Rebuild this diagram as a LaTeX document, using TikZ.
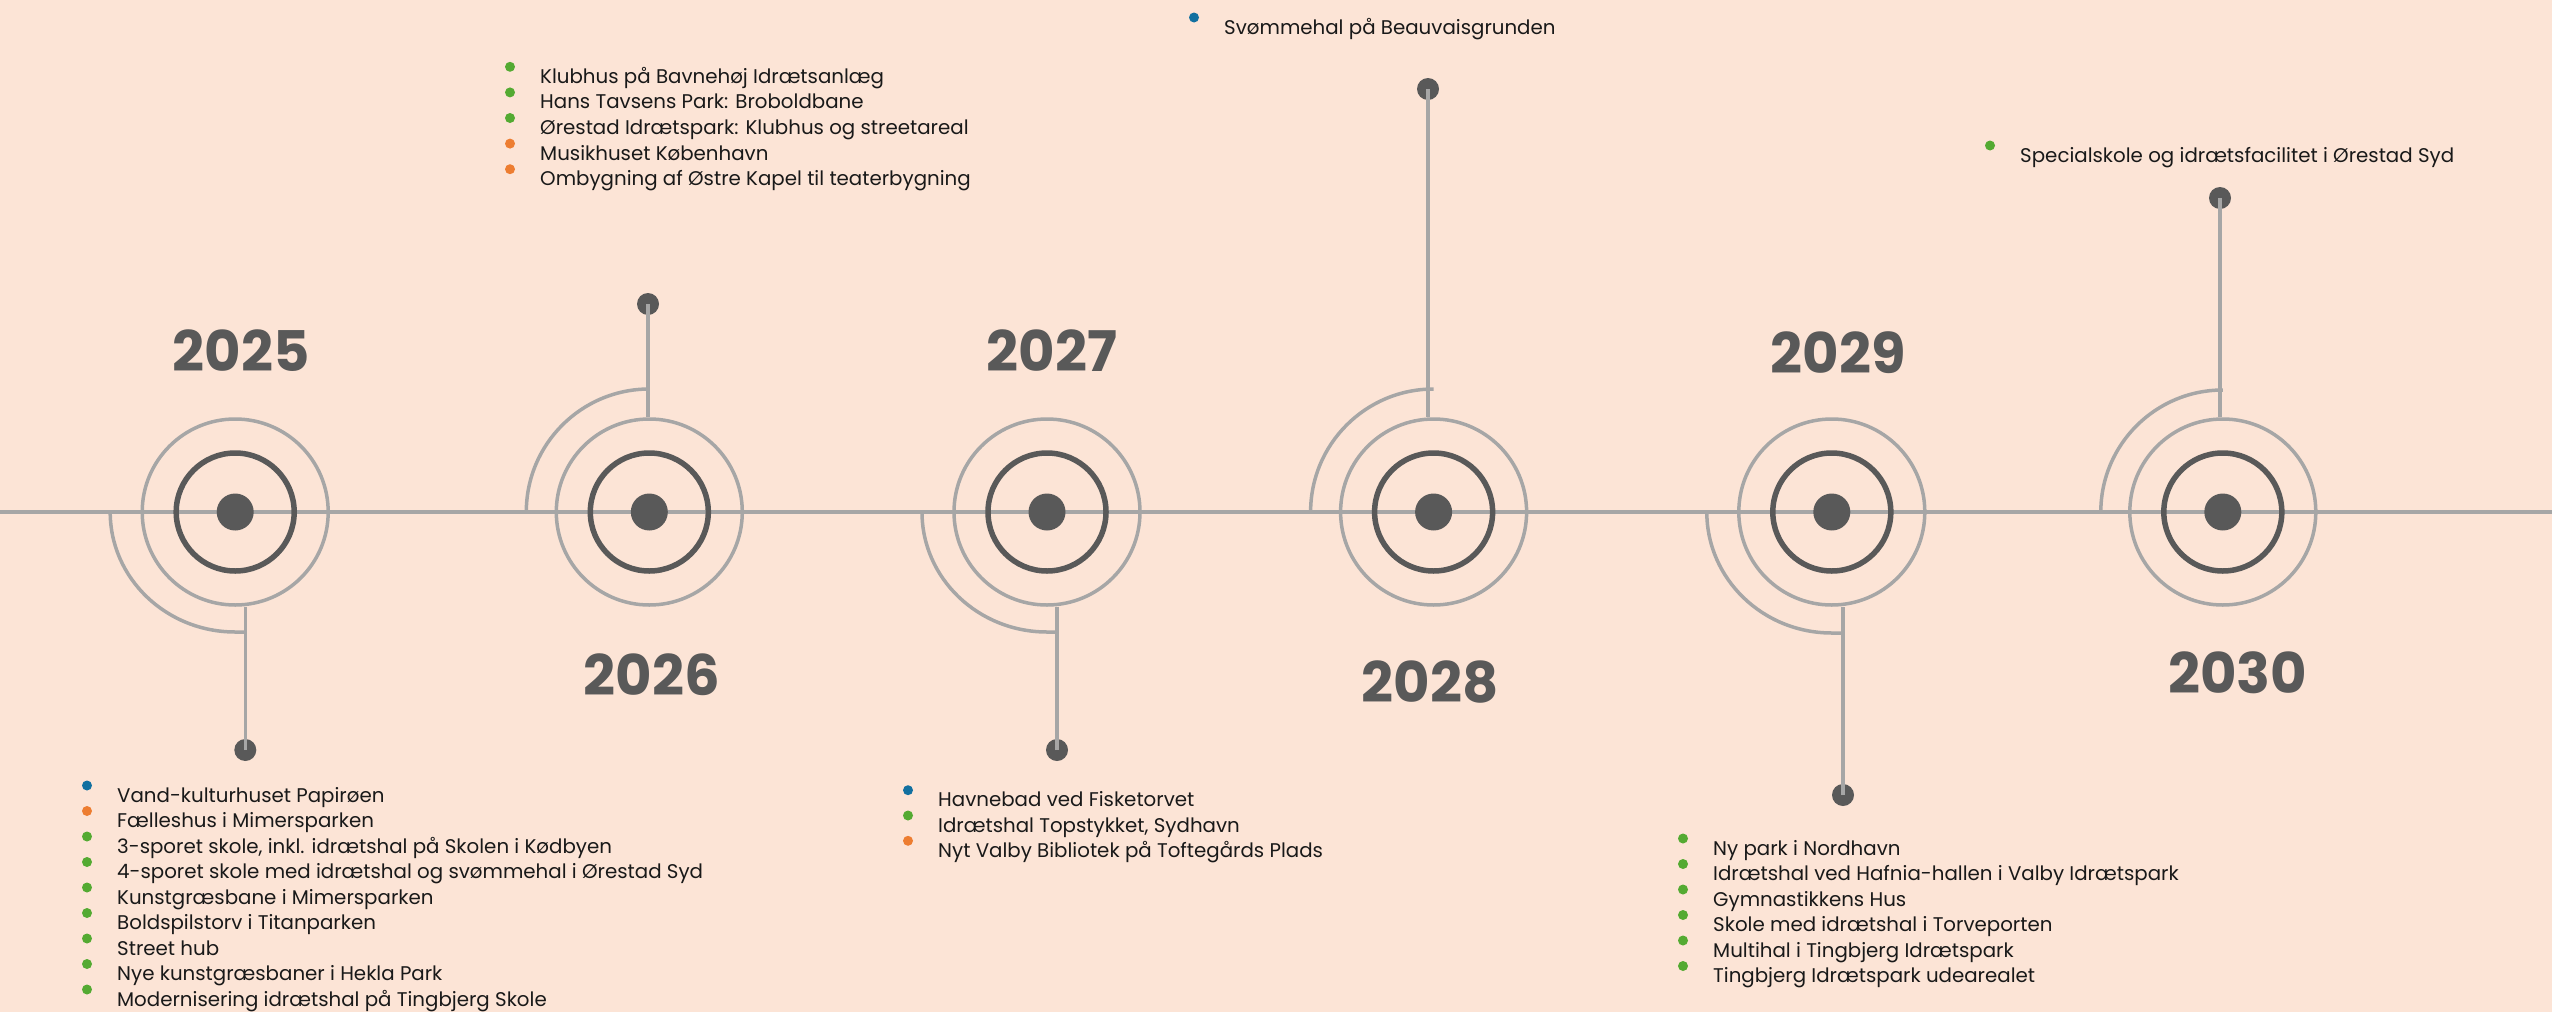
\documentclass[tikz,border=0pt]{standalone}
\usepackage{fontspec}
\setmainfont{Poppins}
\definecolor{bgc}{RGB}{252,228,214}
\definecolor{lgray}{RGB}{166,166,166}
\definecolor{dgray}{RGB}{89,89,89}
\definecolor{bblue}{RGB}{18,112,160}
\definecolor{borange}{RGB}{237,125,49}
\definecolor{bgreen}{RGB}{84,170,50}
\definecolor{txt}{RGB}{25,25,25}
\tikzset{
  gline/.style={draw=lgray, line width=3.5pt},
  ring/.style={circle, draw=lgray, line width=3.5pt, minimum size=186pt, inner sep=0pt},
  darkring/.style={circle, draw=dgray, line width=5.5pt, minimum size=118pt, inner sep=0pt},
  bigdot/.style={circle, fill=dgray, minimum size=37pt, inner sep=0pt},
  smalldot/.style={circle, fill=dgray, minimum size=22pt, inner sep=0pt},
  yearlbl/.style={inner sep=0pt, text=dgray, font=\fontsize{56}{56}\selectfont\bfseries},
  itemtext/.style={inner sep=0pt, anchor=base west, text=txt, font=\fontsize{19.8}{22}\selectfont},
  bullet/.style={circle, inner sep=0pt, minimum size=10pt},
}
\newcommand\itm[5]{% name, x, baseline y, colour, text
  \node[bullet, fill=#4] (#1b) at (#2-30,#3-16.5) {};
  \node[itemtext] (#1) at (#2,#3) {#5};
}
\begin{document}
\begin{tikzpicture}[x=1pt,y=-1pt]
\fill[bgc] (0,0) rectangle (2552,1012);
\useasboundingbox (0,0) rectangle (2552,1012);
% main line
\coordinate (L) at (0,512);
\coordinate (R) at (2552,512);
\draw[gline] (L) -- (R);

% centres
\foreach \n/\x in {25/235.2,26/649.3,27/1047,28/1433.6,29/1831.8,30/2222.8}{
  \node[ring] (o\n) at (\x,512) {};
  \node[darkring] (i\n) at (\x,512) {};
  \node[bigdot] (b\n) at (\x,512) {};
}
% end dots
\node[smalldot] (d25) at (245.3,750) {};
\node[smalldot] (d26) at (648,304) {};
\node[smalldot] (d27) at (1057,750) {};
\node[smalldot] (d28) at (1428,89) {};
\node[smalldot] (d29) at (1843,795) {};
\node[smalldot] (d30) at (2220,198) {};

% connectors: lower
\draw[gline] (d25.center) -- (d25.center |- o25.south);
\draw[gline] (o25.center) ++(-125,0) arc[start angle=180,end angle=270,x radius=125pt,y radius=120pt] coordinate (a25) -- (d25.center |- a25);
\draw[gline] (d27.center) -- (d27.center |- o27.south);
\draw[gline] (o27.center) ++(-125,0) arc[start angle=180,end angle=270,x radius=125pt,y radius=120pt] coordinate (a27) -- (d27.center |- a27);
\draw[gline] (d29.center) -- (d29.center |- o29.south);
\draw[gline] (o29.center) ++(-125,0) arc[start angle=180,end angle=270,x radius=125pt,y radius=121pt] coordinate (a29) -- (d29.center |- a29);
% connectors: upper
\draw[gline] (d26.center) -- (d26.center |- o26.north);
\draw[gline] (o26.center) ++(-123,0) arc[start angle=180,end angle=90,radius=123pt] coordinate (a26) -- (d26.center |- a26);
\draw[gline] (d28.center) -- (d28.center |- o28.north);
\draw[gline] (o28.center) ++(-123,0) arc[start angle=180,end angle=90,radius=123pt] coordinate (a28) -- (d28.center |- a28);
\draw[gline] (d30.center) -- (d30.center |- o30.north);
\draw[gline] (o30.center) ++(-122,0) arc[start angle=180,end angle=90,radius=122pt] coordinate (a30) -- (d30.center |- a30);

% year labels
\node[yearlbl] (y25) at (241,351) {2025};
\node[yearlbl] (y26) at (652,675) {2026};
\node[yearlbl] (y27) at (1052,351) {2027};
\node[yearlbl] (y28) at (1430,682) {2028};
\node[yearlbl] (y29) at (1838,353) {2029};
\node[yearlbl] (y30) at (2237.5,673) {2030};

% 2025 list
\itm{t25a}{117}{802}{bblue}{Vand-kulturhuset Papirøen}
\itm{t25b}{117}{827.5}{borange}{Fælleshus i Mimersparken}
\itm{t25c}{117}{853}{bgreen}{3-sporet skole, inkl. idrætshal på Skolen i Kødbyen}
\itm{t25d}{117}{878.5}{bgreen}{4-sporet skole med idrætshal og svømmehal i Ørestad Syd}
\itm{t25e}{117}{904}{bgreen}{Kunstgræsbane i Mimersparken}
\itm{t25f}{117}{929.5}{bgreen}{Boldspilstorv i Titanparken}
\itm{t25g}{117}{955}{bgreen}{Street hub}
\itm{t25h}{117}{980.5}{bgreen}{Nye kunstgræsbaner i Hekla Park}
\itm{t25i}{117}{1006}{bgreen}{Modernisering idrætshal på Tingbjerg Skole}
% 2026 list
\itm{t26a}{540}{83.3}{bgreen}{Klubhus på Bavnehøj Idrætsanlæg}
\itm{t26b}{540}{108.9}{bgreen}{Hans Tavsens Park: Broboldbane}
\itm{t26c}{540}{134.5}{bgreen}{Ørestad Idrætspark: Klubhus og streetareal}
\itm{t26d}{540}{160.1}{borange}{Musikhuset København}
\itm{t26e}{540}{185.7}{borange}{Ombygning af Østre Kapel til teaterbygning}
% 2027 list
\itm{t27a}{938}{806.7}{bblue}{Havnebad ved Fisketorvet}
\itm{t27b}{938}{832}{bgreen}{Idrætshal Topstykket, Sydhavn}
\itm{t27c}{938}{857.3}{borange}{Nyt Valby Bibliotek på Toftegårds Plads}
% 2028
\itm{t28a}{1224}{34}{bblue}{Svømmehal på Beauvaisgrunden}
% 2029 list
\itm{t29a}{1713}{855}{bgreen}{Ny park i Nordhavn}
\itm{t29b}{1713}{880.5}{bgreen}{Idrætshal ved Hafnia-hallen i Valby Idrætspark}
\itm{t29c}{1713}{906}{bgreen}{Gymnastikkens Hus}
\itm{t29d}{1713}{931.5}{bgreen}{Skole med idrætshal i Torveporten}
\itm{t29e}{1713}{957}{bgreen}{Multihal i Tingbjerg Idrætspark}
\itm{t29f}{1713}{982.5}{bgreen}{Tingbjerg Idrætspark udearealet}
% 2030
\itm{t30a}{2020}{162}{bgreen}{Specialskole og idrætsfacilitet i Ørestad Syd}
\end{tikzpicture}
\end{document}
